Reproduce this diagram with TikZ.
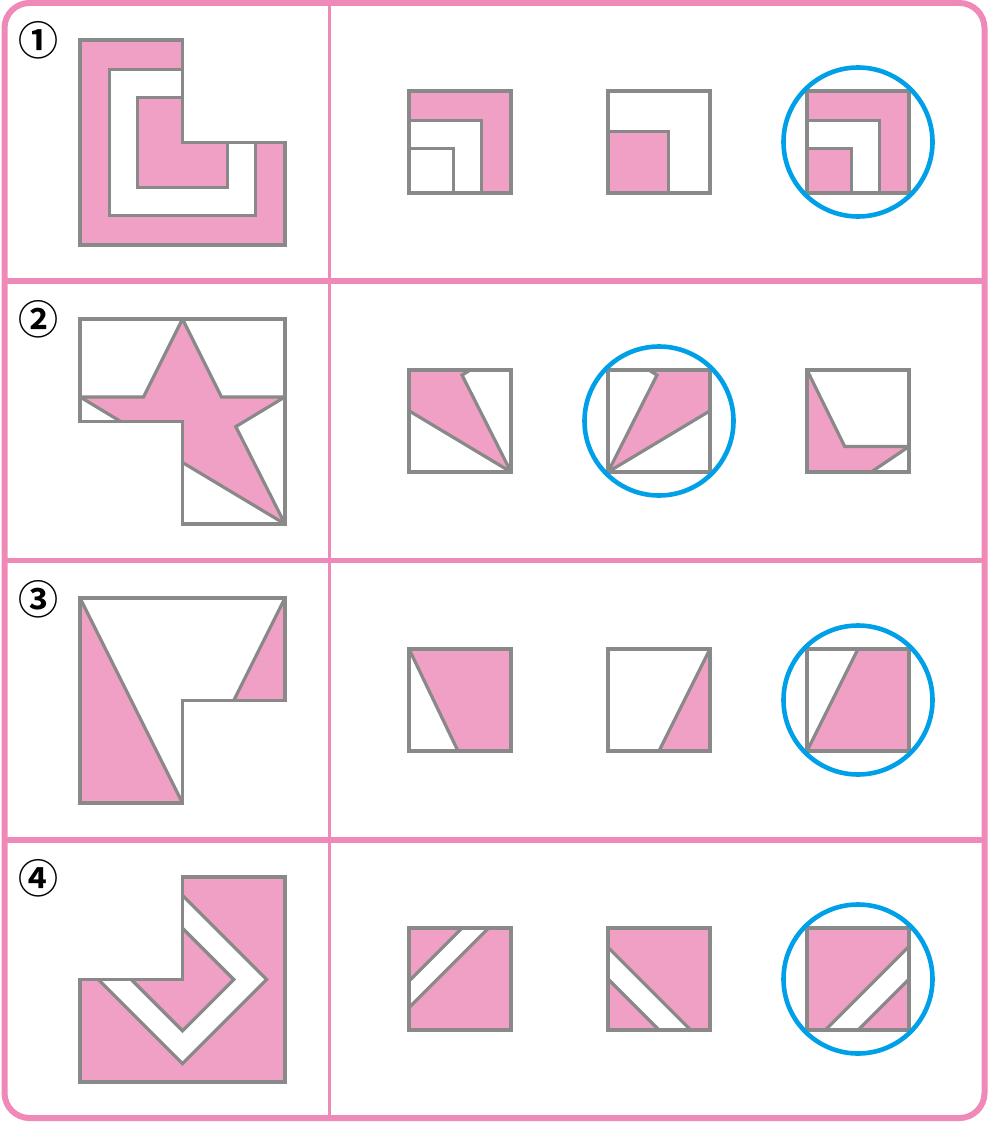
\documentclass[tikz,border=0pt]{standalone}
\usepackage{fontspec}
\newfontfamily\numfont{Noto Sans CJK JP}[BoldFont={Noto Sans CJK JP Bold}]
\definecolor{framepink}{RGB}{239,137,183}
\definecolor{piecepink}{RGB}{240,160,196}
\definecolor{edgegray}{RGB}{137,137,137}
\definecolor{answerblue}{RGB}{0,160,233}
\tikzset{
    tableframe/.style = {draw=framepink, line width=6pt, rounded corners=25pt},
    rowline/.style = {draw=framepink, line width=5.5pt},
    colline/.style = {draw=framepink, line width=2.7pt},
    grayline/.style = {draw=edgegray, line width=3.2pt, miter limit=2},
    pinkfill/.style = {fill=piecepink},
    answerring/.style = {draw=answerblue, line width=4.6pt, circle, minimum size=149pt, inner sep=0pt},
    rownum/.style = {font=\numfont\bfseries\fontsize{40}{40}\selectfont, inner sep=0pt},
    figscale/.style = {x=102.5pt, y=-102.5pt},
    optscale/.style = {x=102pt, y=-102pt},
}

\begin{document}
\begin{tikzpicture}[x=1pt, y=-1pt]
    \useasboundingbox (0,0) rectangle (989,1124);

    % Table
    \draw[rowline] (4.5,281) -- (984.5,281);
    \draw[rowline] (4.5,560.5) -- (984.5,560.5);
    \draw[rowline] (4.5,840) -- (984.5,840);
    \draw[colline] (329.5,3) -- (329.5,1118);
    \draw[tableframe] (4.5,3) rectangle (984.5,1118);

    % Row numbers
    \node[rownum] (num1) at (38,40) {①};
    \node[rownum] (num2) at (38,319) {②};
    \node[rownum] (num3) at (38,599) {③};
    \node[rownum] (num4) at (38,878) {④};

    % Row 1: nested L
    \begin{scope}[shift={(80,40)}, figscale]
        \fill[pinkfill] (0,0) -- (1,0) -- (1,1) -- (2,1) -- (2,2) -- (0,2) -- cycle;
        \filldraw[grayline, fill=white] (0.29,0.29) -- (1,0.29) -- (1,0.56) -- (0.56,0.56) -- (0.56,1.44)
            -- (1.44,1.44) -- (1.44,1) -- (1.71,1) -- (1.71,1.71) -- (0.29,1.71) -- cycle;
        \draw[grayline] (0,0) -- (1,0) -- (1,1) -- (2,1) -- (2,2) -- (0,2) -- cycle;
    \end{scope}
    \begin{scope}[shift={(409,91)}, optscale]
        \fill[pinkfill] (0,0) -| (1,1) -- (0.71,1) |- (0,0.29) -- cycle;
        \draw[grayline] (0,0.29) -| (0.71,1) (0,0.56) -| (0.44,1);
        \draw[grayline] (0,0) rectangle (1,1);
    \end{scope}
    \begin{scope}[shift={(608,91)}, optscale]
        \fill[pinkfill] (0,0.4) rectangle (0.59,1);
        \draw[grayline] (0,0.4) -| (0.59,1);
        \draw[grayline] (0,0) rectangle (1,1);
    \end{scope}
    \begin{scope}[shift={(807,91)}, optscale]
        \fill[pinkfill] (0,0) -| (1,1) -- (0.71,1) |- (0,0.29) -- cycle;
        \fill[pinkfill] (0,0.56) rectangle (0.44,1);
        \draw[grayline] (0,0.29) -| (0.71,1) (0,0.56) -| (0.44,1);
        \draw[grayline] (0,0) rectangle (1,1);
    \end{scope}
    \node[answerring] (ring1) at (858,142) {};

    % Row 2: star
    \begin{scope}[shift={(80,319)}, figscale]
        \begin{scope}
            \clip (0,0) -- (2,0) -- (2,2) -- (1,2) -- (1,1) -- (0,1) -- cycle;
            \filldraw[grayline, pinkfill] (1,0) -- (1.38,0.76) -- (2,0.76) -- (1.52,1.05) -- (2,2) -- (1,1.4)
                -- (0,2) -- (0.48,1.05) -- (0,0.76) -- (0.62,0.76) -- cycle;
        \end{scope}
        \draw[grayline] (0,0) -- (2,0) -- (2,2) -- (1,2) -- (1,1) -- (0,1) -- cycle;
    \end{scope}
    \begin{scope}[shift={(409,370)}, optscale]
        \fill[pinkfill] (0,0) -- (0.6,0) -- (0.52,0.05) -- (1,1) -- (0,0.4) -- cycle;
        \draw[grayline] (0.6,0) -- (0.52,0.05) -- (1,1) -- (0,0.4);
        \draw[grayline] (0,0) rectangle (1,1);
    \end{scope}
    \begin{scope}[shift={(608,370)}, optscale]
        \fill[pinkfill] (0.4,0) -- (1,0) -- (1,0.4) -- (0,1) -- (0.48,0.05) -- cycle;
        \draw[grayline] (0.4,0) -- (0.48,0.05) -- (0,1) -- (1,0.4);
        \draw[grayline] (0,0) rectangle (1,1);
    \end{scope}
    \begin{scope}[shift={(807,370)}, optscale]
        \fill[pinkfill] (0,0) -- (0.37,0.75) -- (1,0.75) -- (0.63,1) -- (0,1) -- cycle;
        \draw[grayline] (0,0) -- (0.37,0.75) -- (1,0.75) -- (0.63,1);
        \draw[grayline] (0,0) rectangle (1,1);
    \end{scope}
    \node[answerring] (ring2) at (659,421) {};

    % Row 3: slanted cuts
    \begin{scope}[shift={(80,598)}, figscale]
        \fill[pinkfill] (0,0) -- (1,2) -- (0,2) -- cycle;
        \fill[pinkfill] (2,0) -- (2,1) -- (1.5,1) -- cycle;
        \draw[grayline] (0,0) -- (1,2) (2,0) -- (1.5,1);
        \draw[grayline] (0,0) -- (2,0) -- (2,1) -- (1,1) -- (1,2) -- (0,2) -- cycle;
    \end{scope}
    \begin{scope}[shift={(409,649)}, optscale]
        \fill[pinkfill] (0,0) -- (1,0) -- (1,1) -- (0.48,1) -- cycle;
        \draw[grayline] (0,0) -- (0.48,1);
        \draw[grayline] (0,0) rectangle (1,1);
    \end{scope}
    \begin{scope}[shift={(608,649)}, optscale]
        \fill[pinkfill] (1,0) -- (1,1) -- (0.5,1) -- cycle;
        \draw[grayline] (1,0) -- (0.5,1);
        \draw[grayline] (0,0) rectangle (1,1);
    \end{scope}
    \begin{scope}[shift={(807,649)}, optscale]
        \fill[pinkfill] (0.5,0) -- (1,0) -- (1,1) -- (0,1) -- cycle;
        \draw[grayline] (0.5,0) -- (0,1);
        \draw[grayline] (0,0) rectangle (1,1);
    \end{scope}
    \node[answerring] (ring3) at (858,700) {};

    % Row 4: diamond band
    \begin{scope}[shift={(80,877)}, figscale]
        \fill[pinkfill] (1,0) -- (2,0) -- (2,2) -- (0,2) -- (0,1) -- (1,1) -- cycle;
        \begin{scope}
            \clip (1,0) -- (2,0) -- (2,2) -- (0,2) -- (0,1) -- (1,1) -- cycle;
            \filldraw[grayline, fill=white, even odd rule] (1,0.18) -- (1.82,1) -- (1,1.82) -- (0.18,1) -- cycle
                (1,0.5) -- (1.5,1) -- (1,1.5) -- (0.5,1) -- cycle;
        \end{scope}
        \draw[grayline] (1,0) -- (2,0) -- (2,2) -- (0,2) -- (0,1) -- (1,1) -- cycle;
    \end{scope}
    \begin{scope}[shift={(409,928)}, optscale]
        \fill[pinkfill] (0,0) rectangle (1,1);
        \filldraw[grayline, fill=white] (0.52,0) -- (0,0.52) -- (0,0.78) -- (0.78,0) -- cycle;
        \draw[grayline] (0,0) rectangle (1,1);
    \end{scope}
    \begin{scope}[shift={(608,928)}, optscale]
        \fill[pinkfill] (0,0) rectangle (1,1);
        \filldraw[grayline, fill=white] (0,0.19) -- (0.81,1) -- (0.5,1) -- (0,0.5) -- cycle;
        \draw[grayline] (0,0) rectangle (1,1);
    \end{scope}
    \begin{scope}[shift={(807,928)}, optscale]
        \fill[pinkfill] (0,0) rectangle (1,1);
        \filldraw[grayline, fill=white] (1,0.18) -- (0.18,1) -- (0.5,1) -- (1,0.5) -- cycle;
        \draw[grayline] (0,0) rectangle (1,1);
    \end{scope}
    \node[answerring] (ring4) at (858,979) {};
\end{tikzpicture}
\end{document}
